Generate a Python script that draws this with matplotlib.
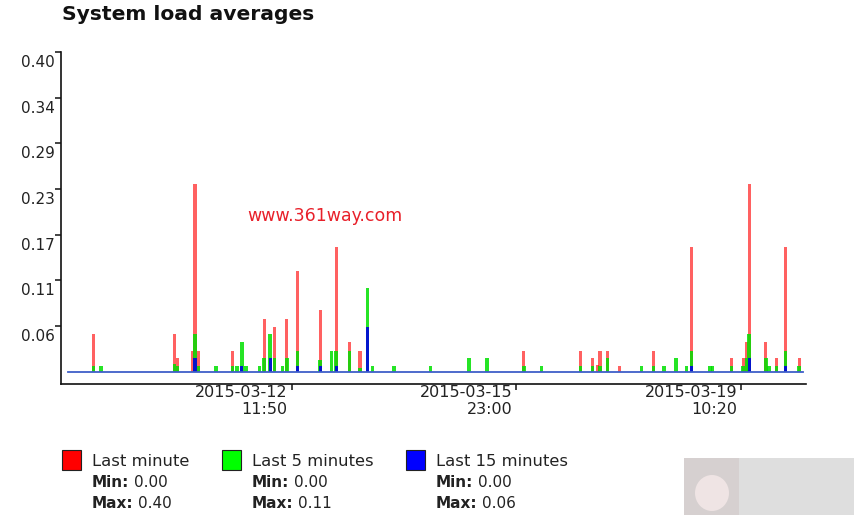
import matplotlib
matplotlib.use("Agg")
import matplotlib.pyplot as plt
import matplotlib.dates as mdates
from matplotlib.transforms import offset_copy
from matplotlib.patches import Rectangle, Ellipse
import pandas as pd

# ---------------- data ----------------
times = [
    "2015-03-09 10:30", "2015-03-09 13:15", "2015-03-10 16:30", "2015-03-10 17:35",
    "2015-03-10 23:10", "2015-03-11 00:05", "2015-03-11 01:20", "2015-03-11 07:55",
    "2015-03-11 13:55", "2015-03-11 15:35", "2015-03-11 17:25", "2015-03-11 19:00",
    "2015-03-11 23:55", "2015-03-12 01:40", "2015-03-12 03:55", "2015-03-12 05:30",
    "2015-03-12 08:25", "2015-03-12 10:05", "2015-03-12 14:00", "2015-03-12 22:25",
    "2015-03-13 02:40", "2015-03-13 04:20", "2015-03-13 09:15", "2015-03-13 13:10",
    "2015-03-13 15:55", "2015-03-13 17:50", "2015-03-14 01:50", "2015-03-14 15:20",
    "2015-03-15 05:35", "2015-03-15 12:15", "2015-03-16 01:50", "2015-03-16 08:25",
    "2015-03-16 22:50", "2015-03-17 03:10", "2015-03-17 05:00", "2015-03-17 06:00",
    "2015-03-17 08:50", "2015-03-17 13:05", "2015-03-17 21:25", "2015-03-18 01:50",
    "2015-03-18 05:45", "2015-03-18 10:05", "2015-03-18 14:05", "2015-03-18 15:50",
    "2015-03-18 22:40", "2015-03-18 23:40", "2015-03-19 06:40", "2015-03-19 11:00",
    "2015-03-19 12:15", "2015-03-19 13:15", "2015-03-19 19:25", "2015-03-19 20:30",
    "2015-03-19 23:20", "2015-03-20 02:40", "2015-03-20 07:45",
]
last_minute = [
    0.047, 0, 0.047, 0.017, 0.026, 0.235, 0.026, 0, 0.026, 0, 0, 0,
    0, 0.066, 0, 0.056, 0, 0.066, 0.126, 0.077, 0, 0.156, 0.037, 0.026,
    0, 0, 0, 0, 0, 0, 0.026, 0, 0.026, 0.017, 0.008, 0.026,
    0.026, 0.007, 0, 0.026, 0, 0, 0, 0.156, 0, 0, 0.017, 0.017,
    0.037, 0.235, 0.037, 0, 0.017, 0.156, 0.017,
]
last_5_minutes = [
    0.007, 0.007, 0.009, 0.007, 0, 0.047, 0.007, 0.007, 0.007, 0.007, 0.037, 0.007,
    0.007, 0.017, 0.047, 0.017, 0.007, 0.017, 0.026, 0.015, 0.026, 0.026, 0.026, 0.005,
    0.105, 0.007, 0.007, 0.007, 0.017, 0.017, 0.007, 0.007, 0.007, 0.007, 0, 0.007,
    0.017, 0, 0.007, 0.007, 0.007, 0.017, 0.007, 0.026, 0.007, 0.007, 0.007, 0.007,
    0.017, 0.047, 0.017, 0.007, 0.007, 0.026, 0.007,
]
last_15_minutes = [
    0, 0, 0, 0, 0, 0.017, 0, 0, 0, 0, 0.007, 0,
    0, 0, 0.017, 0, 0, 0, 0.007, 0.007, 0, 0.007, 0, 0,
    0.056, 0, 0, 0, 0, 0, 0, 0, 0, 0, 0, 0,
    0, 0, 0, 0, 0, 0, 0, 0.007, 0, 0, 0, 0,
    0, 0.017, 0, 0, 0, 0.007, 0,
]
period = ["2015-03-09 01:10", "2015-03-20 09:05"]
view = ["2015-03-08 22:30", "2015-03-20 10:15"]

y_ticks = [0.4 * k / 7 for k in range(1, 8)]
y_labels = ["0.06", "0.11", "0.17", "0.23", "0.29", "0.34", "0.40"]
x_ticks = ["2015-03-12 11:50", "2015-03-15 23:00", "2015-03-19 10:20"]
x_labels = ["2015-03-12\n11:50", "2015-03-15\n23:00", "2015-03-19\n10:20"]

series_names = ["Last minute", "Last 5 minutes", "Last 15 minutes"]
series_min = ["0.00", "0.00", "0.00"]
series_max = ["0.40", "0.11", "0.06"]

# ---------------- figure ----------------
W, H = 864, 515
fig = plt.figure(figsize=(W / 100, H / 100), dpi=100)
fig.patch.set_facecolor("white")
ax = fig.add_axes([61 / W, 1 - 384 / H, (806 - 61) / W, (384 - 52) / H])

t = mdates.date2num(pd.to_datetime(times))
tp = mdates.date2num(pd.to_datetime(period))
tv = mdates.date2num(pd.to_datetime(view))
width = 1.15 / 24.0

ax.bar(t, last_minute, width=width, color="#ff0000", alpha=0.62, linewidth=0, zorder=2)
ax.bar(t, last_5_minutes, width=width * 1.15, color="#00e000", alpha=0.85, linewidth=0, zorder=3)
ax.bar(t, last_15_minutes, width=width, color="#0000e0", alpha=0.9, linewidth=0, zorder=4)
ax.plot(tp, [0, 0], color="#3f5fc8", linewidth=1.3, zorder=5)

ax.set_xlim(tv[0], tv[1])
ax.set_ylim(-0.0154, 0.40)

for s in ["top", "right"]:
    ax.spines[s].set_visible(False)
for s in ["left", "bottom"]:
    ax.spines[s].set_color("#111111")
    ax.spines[s].set_linewidth(1.2)

ax.set_yticks(y_ticks)
ax.set_yticklabels([])
ax.tick_params(axis="y", direction="out", length=4.5, width=1.1, color="#111111")
xt = mdates.date2num(pd.to_datetime(x_ticks))
ax.set_xticks(xt)
ax.set_xticklabels([])
ax.tick_params(axis="x", direction="out", length=4.5, width=1.1, color="#111111")

ytrans = offset_copy(ax.get_yaxis_transform(), fig=fig, x=-6, y=-3, units="dots")
for v, lab in zip(y_ticks, y_labels):
    ax.text(0, v, lab, transform=ytrans, ha="right", va="top", fontsize=11,
            color="#222222", clip_on=False)

xtrans = offset_copy(ax.get_xaxis_transform(), fig=fig, x=-4, y=-1, units="dots")
for v, lab in zip(xt, x_labels):
    ax.text(v, 0, lab, transform=xtrans, ha="right", va="top", fontsize=11.5,
            color="#222222", linespacing=1.15, multialignment="right", clip_on=False)

# title
fig.text(62 / W, 1 - 15 / H, "System load averages", fontsize=14.6, fontweight="bold",
         color="#111111", ha="left", va="center")

# watermark text
fig.text(247 / W, 1 - 216 / H, "www.361way.com", fontsize=12.5, color="#e8202a",
         ha="left", va="center")

# legend
colors = ["#ff0000", "#00ff00", "#0000ff"]
box_x = [62, 222, 406]
for bx, c, name, mn, mx in zip(box_x, colors, series_names, series_min, series_max):
    fig.patches.append(Rectangle((bx / W, 1 - 470 / H), 19 / W, 20 / H,
                                 transform=fig.transFigure, facecolor=c,
                                 edgecolor="#222222", linewidth=0.8))
    tx = (bx + 30) / W
    fig.text(tx, 1 - 461 / H, name, fontsize=11.8, color="#222222", ha="left", va="center")
    for row_y, key, val in [(481, "Min:", mn), (502, "Max:", mx)]:
        lab = fig.text(tx, 1 - (row_y + 6) / H, key, fontsize=11, fontweight="bold",
                       color="#222222", ha="left", va="baseline")
        ax.annotate(val, xy=(1, 0), xycoords=lab, xytext=(3, 0),
                    textcoords="offset points", fontsize=11, color="#222222",
                    ha="left", va="bottom", annotation_clip=False)

# site badge in the bottom right corner
fig.patches.append(Rectangle((684 / W, 0), 170 / W, 57 / H, transform=fig.transFigure,
                             facecolor="#dedede", edgecolor="none"))
fig.patches.append(Rectangle((684 / W, 0), 55 / W, 57 / H, transform=fig.transFigure,
                             facecolor="#d6d0d0", edgecolor="none"))
fig.patches.append(Ellipse((712 / W, 22 / H), 34 / W, 36 / H, transform=fig.transFigure,
                           facecolor="#efe4e4", edgecolor="none"))

fig.savefig("out.png", dpi=100, facecolor="white")
